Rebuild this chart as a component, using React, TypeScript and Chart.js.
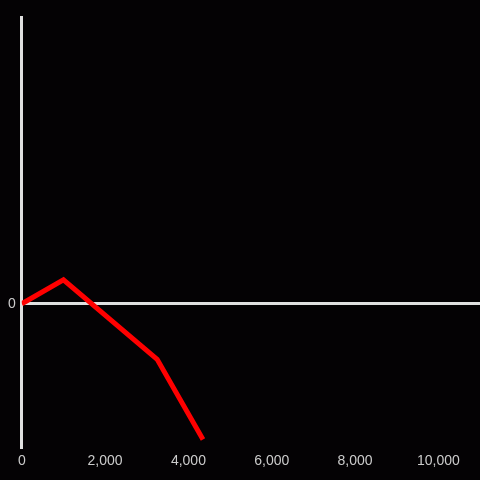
import React, { useEffect, useRef } from "react";
import { Chart, registerables } from "chart.js";

Chart.register(...registerables);

const xValues = [0, 1000, 3250, 4350];
const yValues = [0, 25, -58, -142];
const xTickValues = [0, 2000, 4000, 6000, 8000, 10000];
const yTickLabels = [0];

export default function App() {
  const ref = useRef<HTMLCanvasElement | null>(null);
  useEffect(() => {
    document.body.style.margin = "0";
    document.body.style.background = "#040204";
    const chart = new Chart(ref.current!, {
      type: "line",
      data: {
        datasets: [
          {
            data: xValues.map((x, i) => ({ x, y: yValues[i] })),
            borderColor: "#ff0000",
            borderWidth: 5,
            pointRadius: 0,
            fill: false,
            tension: 0,
          },
        ],
      },
      options: {
        animation: false,
        responsive: false,
        layout: { padding: { top: 17, left: 2, right: 0, bottom: 4 } },
        plugins: { legend: { display: false }, tooltip: { enabled: false } },
        scales: {
          x: {
            type: "linear",
            min: 0,
            max: 11000,
            afterBuildTicks: (axis: any) => {
              axis.ticks = xTickValues.map((v) => ({ value: v }));
            },
            grid: { display: false, drawTicks: false },
            border: { display: false },
            ticks: {
              color: "#cccccc",
              padding: 6,
              font: { family: "Liberation Sans, Arial, sans-serif", size: 14 },
              callback: (v: any) => Number(v).toLocaleString("en-US"),
            },
          },
          y: {
            type: "linear",
            min: -150,
            max: 300,
            afterBuildTicks: (axis: any) => {
              axis.ticks = [-150, ...yTickLabels, 300].map((v) => ({ value: v }));
            },
            grid: {
              drawTicks: false,
              lineWidth: 3,
              color: (ctx: any) => (ctx.tick && ctx.tick.value === 0 ? "#e0e0e0" : "transparent"),
            },
            border: { display: true, color: "#e0e0e0", width: 3 },
            ticks: {
              color: "#cccccc",
              padding: 6,
              font: { family: "Liberation Sans, Arial, sans-serif", size: 14 },
              callback: (v: any) => (yTickLabels.includes(Number(v)) ? String(v) : ""),
            },
          },
        },
      },
      plugins: [
        {
          id: "bg",
          beforeDraw: (c: any) => {
            const g = c.ctx;
            g.save();
            g.fillStyle = "#040204";
            g.fillRect(0, 0, c.width, c.height);
            g.restore();
          },
        },
      ],
    });
    return () => chart.destroy();
  }, []);
  return (
    <div style={{ width: 480, height: 480 }}>
      <canvas ref={ref} width={480} height={480} style={{ display: "block" }} />
    </div>
  );
}
